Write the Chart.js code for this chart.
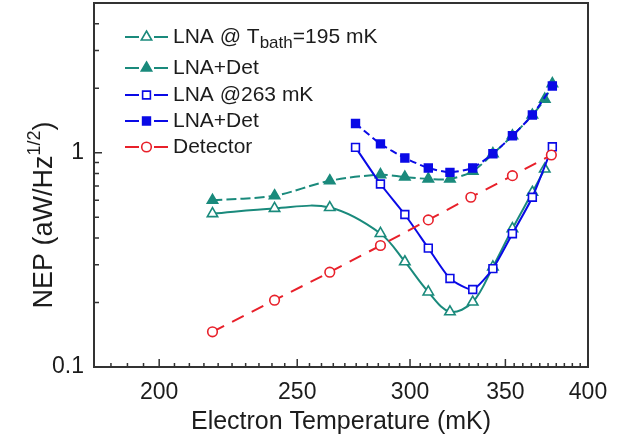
<!DOCTYPE html>
<html>
<head>
<meta charset="utf-8">
<script src="https://cdn.jsdelivr.net/npm/chart.js@4.4.1/dist/chart.umd.min.js"></script>
<style>
body{margin:0;background:#fff;}
#wrap{width:633px;height:441px;}
</style>
</head>
<body>
<div id="wrap"><canvas id="nepChart" width="633" height="441"></canvas></div>
<script>
// values (T in mK, NEP in aW/Hz^1/2)
const tempLna195 = [218, 241, 263.5, 286, 297.5, 309, 320, 332, 343, 354, 365.6, 373]
const nepLna195  = [0.52, 0.55, 0.555, 0.42, 0.31, 0.224, 0.181, 0.201, 0.293, 0.442, 0.654, 0.84]

const tempDet195 = [218, 241, 263.5, 286, 297.5, 309, 320, 332, 343, 354, 365.6, 373, 377.6]
const nepDet195  = [0.60, 0.63, 0.74, 0.79, 0.77, 0.755, 0.755, 0.82, 0.99, 1.2, 1.5, 1.78, 2.1]

const tempLna263 = [274.7, 286, 297.5, 309, 320, 332, 343, 354, 365.6, 377.6]
const nepLna263  = [1.06, 0.715, 0.515, 0.359, 0.259, 0.23, 0.288, 0.419, 0.62, 1.066]

const tempDet263 = [274.7, 286, 297.5, 309, 320, 332, 343, 354, 365.6, 377.6]
const nepDet263  = [1.37, 1.10, 0.945, 0.849, 0.81, 0.849, 0.99, 1.2, 1.5, 2.05]

const tempDetector = [218, 241, 263.5, 286, 309, 331, 354, 377]
const nepDetector  = [0.146, 0.205, 0.277, 0.369, 0.486, 0.62, 0.782, 0.976]

const xTicks = [200, 250, 300, 350, 400]
const yTicks = [0.1, 1]
const xMinor = [185,190,195,205,210,215,220,225,230,235,240,245,255,260,265,270,275,280,285,290,295,305,310,315,320,325,330,335,340,345,355,360,365,370,375,380,385,390,395]
const yMinor = [0.2,0.3,0.4,0.5,0.6,0.7,0.8,0.9,2,3,4]

const TEAL = "#1a8a7c"
const BLUE = "#0a0ae6"
const RED = "#e8202a"
const INK = "#1c1c1c"

function pts(xs, ys){
  return xs.map((x,i)=>({x:x, y:ys[i]}))
}

const datasets = [
{
  label:"LNA @ Tbath=195 mK",
  data:pts(tempLna195, nepLna195),
  borderColor:TEAL, backgroundColor:"#fff",
  pointStyle:"triangle", pointRadius:6, borderDash:[],
  tension:0.35, order:4
},
{
  label:"LNA+Det",
  data:pts(tempDet195, nepDet195),
  borderColor:TEAL, backgroundColor:TEAL,
  pointStyle:"triangle", pointRadius:6, borderDash:[10,4],
  tension:0.3, order:3
},
{
  label:"LNA @263 mK",
  data:pts(tempLna263, nepLna263),
  borderColor:BLUE, backgroundColor:"#fff",
  pointStyle:"rect", pointRadius:5.5, borderDash:[],
  tension:0.2, order:2
},
{
  label:"LNA+Det",
  data:pts(tempDet263, nepDet263),
  borderColor:BLUE, backgroundColor:BLUE,
  pointStyle:"rect", pointRadius:5.5, borderDash:[7,4],
  tension:0.2, order:1
},
{
  label:"Detector",
  data:pts(tempDetector, nepDetector),
  borderColor:RED, backgroundColor:"#fff",
  pointStyle:"circle", pointRadius:4.8, borderDash:[13,9],
  tension:0, order:0
}
]

datasets.forEach(d=>{
  d.borderWidth = 2
  d.pointBorderWidth = 1.6
  d.pointBackgroundColor = d.backgroundColor
  d.pointBorderColor = d.borderColor
  d.pointHoverRadius = d.pointRadius
  d.fill = false
})

/* frame, inward ticks, legend and axis titles */
const decor = {
  id:"decor",
  afterDraw(chart){
    const ctx = chart.ctx
    const a = chart.chartArea
    const xs = chart.scales.x
    const ys = chart.scales.y
    ctx.save()
    ctx.strokeStyle = "#333"
    ctx.lineWidth = 2
    ctx.strokeRect(a.left, a.top, a.right-a.left, a.bottom-a.top)

    ctx.lineWidth = 1.5
    ctx.beginPath()
    xTicks.forEach(v=>{ const p = xs.getPixelForValue(v); ctx.moveTo(p, a.bottom); ctx.lineTo(p, a.bottom-8) })
    xMinor.forEach(v=>{ const p = xs.getPixelForValue(v); ctx.moveTo(p, a.bottom); ctx.lineTo(p, a.bottom-4) })
    yTicks.forEach(v=>{ const p = ys.getPixelForValue(v); ctx.moveTo(a.left, p); ctx.lineTo(a.left+8, p) })
    yMinor.forEach(v=>{ const p = ys.getPixelForValue(v); ctx.moveTo(a.left, p); ctx.lineTo(a.left+5, p) })
    ctx.stroke()

    // legend
    const rows = [37, 68, 95, 121, 147]
    chart.data.datasets.forEach((d,i)=>{
      const y = rows[i]
      ctx.strokeStyle = d.borderColor
      ctx.lineWidth = 2
      ctx.setLineDash([])
      ctx.beginPath()
      ctx.moveTo(125, y); ctx.lineTo(139, y)
      ctx.moveTo(154, y); ctx.lineTo(168, y)
      ctx.stroke()
      ctx.fillStyle = d.pointBackgroundColor
      ctx.strokeStyle = d.pointBorderColor
      ctx.lineWidth = d.pointBorderWidth
      Chart.helpers.drawPoint(ctx, {pointStyle:d.pointStyle, radius:d.pointRadius, rotation:0, borderWidth:d.pointBorderWidth}, 146.5, y)
    })
    ctx.fillStyle = INK
    ctx.textBaseline = "middle"
    ctx.textAlign = "left"
    const big = "21px 'Liberation Sans', Arial, sans-serif"
    const small = "17px 'Liberation Sans', Arial, sans-serif"
    let x = 173
    ctx.font = big
    ctx.fillText("LNA @ T", x, rows[0]); x += ctx.measureText("LNA @ T").width
    ctx.font = small
    ctx.fillText("bath", x, rows[0]+6); x += ctx.measureText("bath").width
    ctx.font = big
    ctx.fillText("=195 mK", x, rows[0])
    ctx.fillText("LNA+Det", 173, rows[1])
    ctx.fillText("LNA @263 mK", 173, rows[2])
    ctx.fillText("LNA+Det", 173, rows[3])
    ctx.fillText("Detector", 173, rows[4])

    // x title
    ctx.font = "25px 'Liberation Sans', Arial, sans-serif"
    ctx.textAlign = "center"
    ctx.fillText("Electron Temperature (mK)", (a.left+a.right)/2, 422)

    // y title with superscript
    ctx.translate(52, 215)
    ctx.rotate(-Math.PI/2)
    ctx.textAlign = "left"
    ctx.textBaseline = "alphabetic"
    const f1 = "27px 'Liberation Sans', Arial, sans-serif"
    const f2 = "18px 'Liberation Sans', Arial, sans-serif"
    ctx.font = f1; const w1 = ctx.measureText("NEP (aW/Hz").width
    const w3 = ctx.measureText(")").width
    ctx.font = f2; const w2 = ctx.measureText("1/2").width
    let sx = -(w1+w2+w3)/2
    ctx.font = f1; ctx.fillText("NEP (aW/Hz", sx, 0); sx += w1
    ctx.font = f2; ctx.fillText("1/2", sx, -12); sx += w2
    ctx.font = f1; ctx.fillText(")", sx, 0)
    ctx.restore()
  }
}

new Chart(document.getElementById("nepChart"),{

type:"line",

data:{ datasets:datasets },

options:{
  responsive:false,
  animation:false,
  events:[],
  layout:{ autoPadding:false, padding:{ top:3, right:45, left:0, bottom:0 } },
  plugins:{ legend:{display:false}, tooltip:{enabled:false} },
  scales:{
    x:{
      type:"logarithmic",
      min:180, max:400,
      grid:{display:false, drawTicks:false},
      border:{display:false},
      afterBuildTicks:s=>{ s.ticks = xTicks.map(v=>({value:v})) },
      afterFit:s=>{ s.height = 74; s.paddingLeft = 0; s.paddingRight = 0 },
      ticks:{
        autoSkip:false, maxRotation:0, padding:12, color:INK,
        font:{family:"'Liberation Sans', Arial, sans-serif", size:23},
        callback:v=>String(v)
      }
    },
    y:{
      type:"logarithmic",
      min:0.1, max:5,
      grid:{display:false, drawTicks:false},
      border:{display:false},
      afterBuildTicks:s=>{ s.ticks = yTicks.map(v=>({value:v})) },
      afterFit:s=>{ s.width = 94; s.paddingTop = 0; s.paddingBottom = 0 },
      ticks:{
        autoSkip:false, padding:10, color:INK,
        font:{family:"'Liberation Sans', Arial, sans-serif", size:23},
        callback:v=>String(v)
      }
    }
  }
},

plugins:[decor]

})
</script>
</body>
</html>
